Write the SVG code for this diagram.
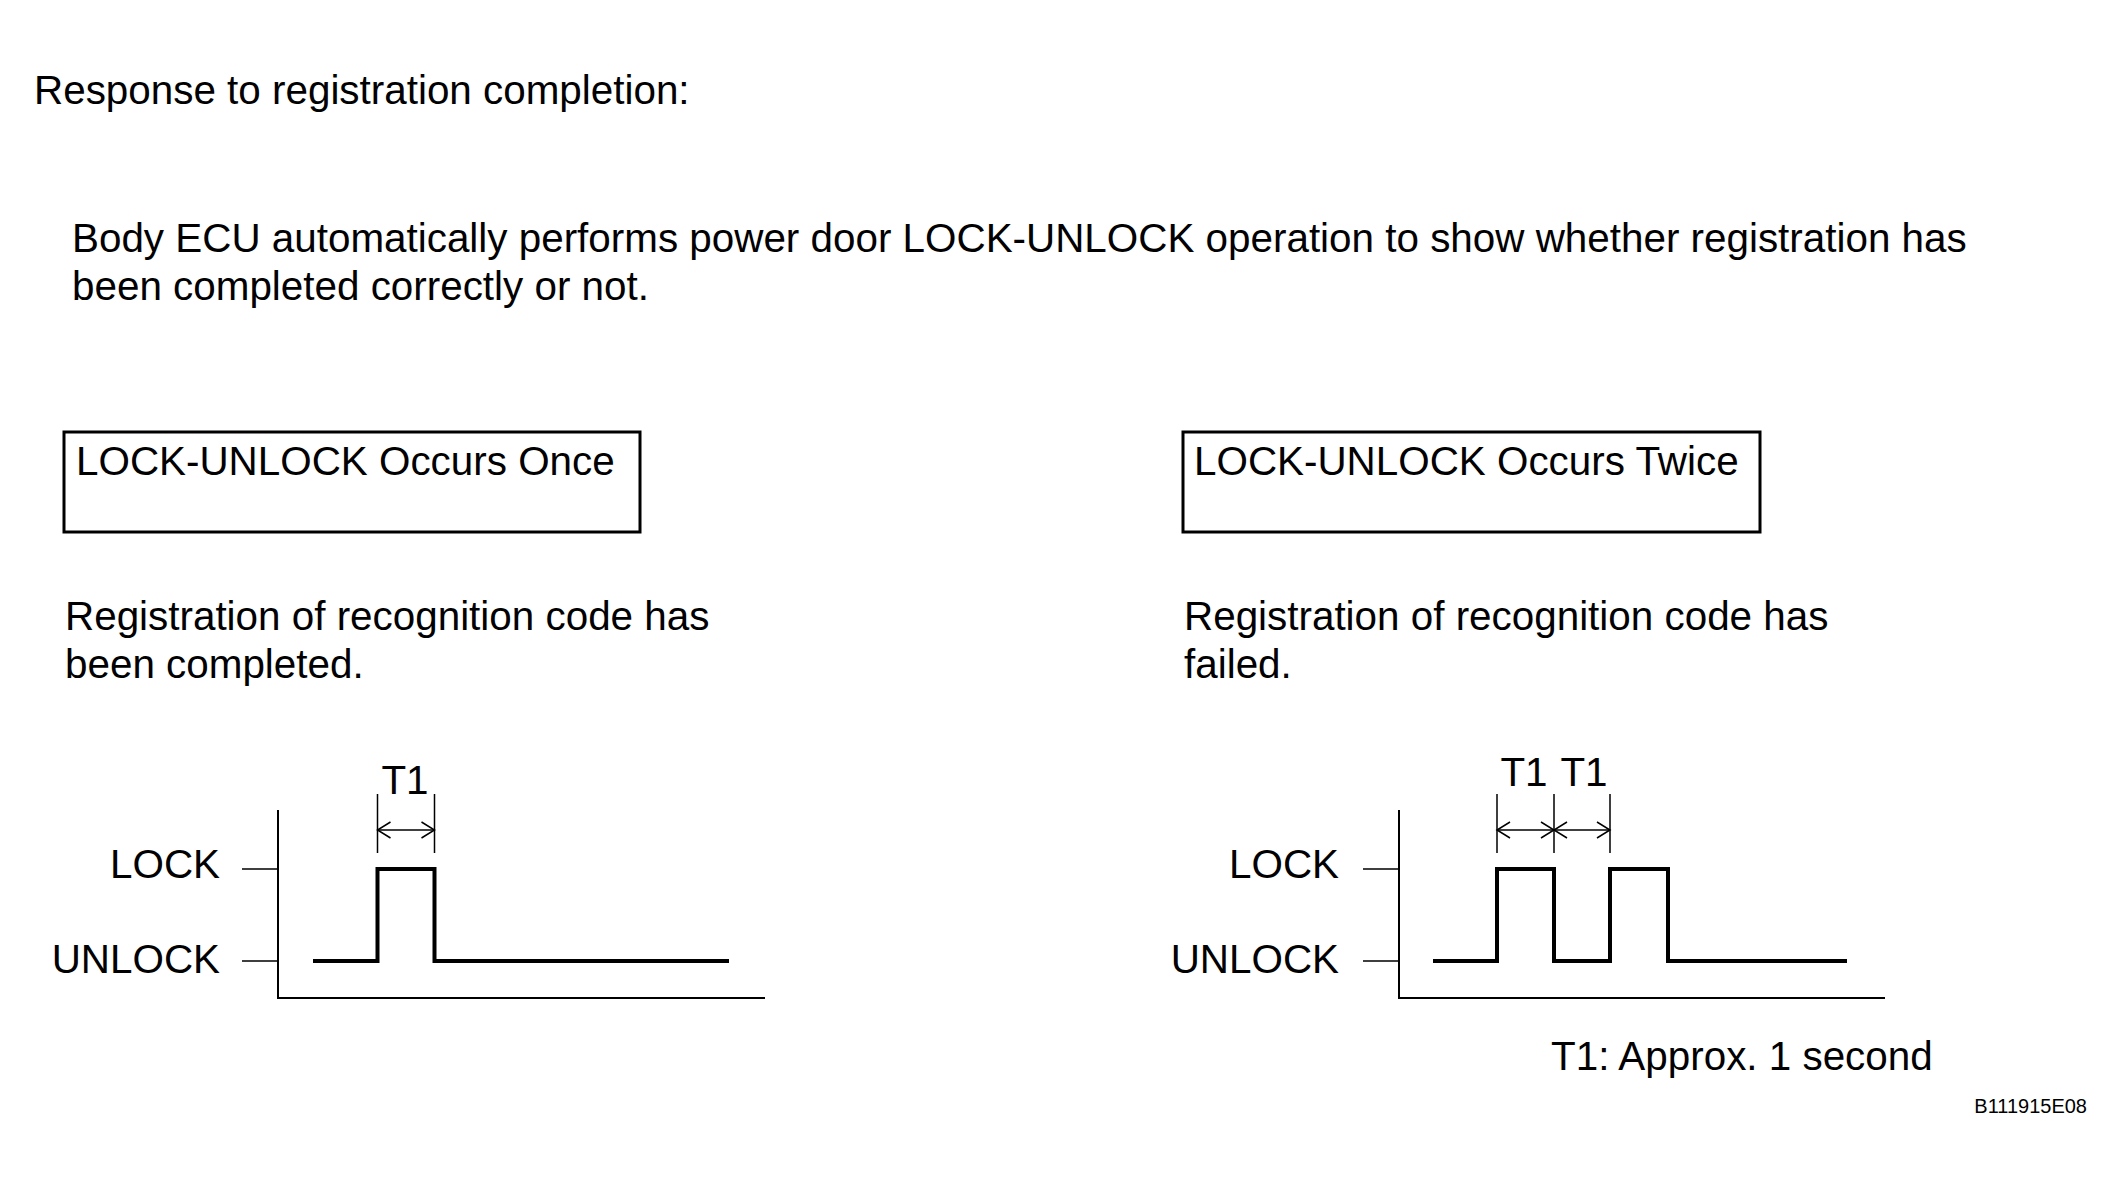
<svg xmlns="http://www.w3.org/2000/svg" width="2124" height="1188" viewBox="0 0 2124 1188">
<style>
text{font-family:"Liberation Sans",Arial,sans-serif;font-size:40.4px;fill:#000}
.box{fill:none;stroke:#000;stroke-width:3}
.axis{fill:none;stroke:#000;stroke-width:2}
.tick{fill:none;stroke:#000;stroke-width:1.5}
.sig{fill:none;stroke:#000;stroke-width:4;stroke-linejoin:miter}
.dim{fill:none;stroke:#000;stroke-width:1.5}
.arr{fill:none;stroke:#000;stroke-width:1.5;marker-start:url(#open);marker-end:url(#open)}
.lab{text-anchor:end}
.mid{text-anchor:middle}
</style>
<defs>
<marker id="open" markerUnits="userSpaceOnUse" markerWidth="20" markerHeight="20" viewBox="-15 -10 20 20" refX="0" refY="0" orient="auto-start-reverse">
<path d="M-13,-8 L0,0 L-13,8" fill="none" stroke="#000" stroke-width="1.5"/>
</marker>
</defs>
<rect width="2124" height="1188" fill="#fff"/>
<g id="title"><text x="34" y="104">Response to registration completion:</text></g>
<g id="description">
<text x="72" y="252">Body ECU automatically performs power door LOCK-UNLOCK operation to show whether registration has</text>
<text x="72" y="300">been completed correctly or not.</text>
</g>
<g id="node-once">
<rect class="box" x="64" y="432" width="576" height="100"/>
<text x="76" y="475">LOCK-UNLOCK Occurs Once</text>
<text x="65" y="630">Registration of recognition code has</text>
<text x="65" y="678">been completed.</text>
</g>
<g id="node-twice">
<rect class="box" x="1183" y="432" width="577" height="100"/>
<text x="1194" y="475">LOCK-UNLOCK Occurs Twice</text>
<text x="1184" y="630">Registration of recognition code has</text>
<text x="1184" y="678">failed.</text>
</g>
<g id="chart-once">
<path class="axis" d="M278,810 V998 H765"/>
<path class="tick" d="M242,869 H278 M242,961 H278"/>
<text class="lab" x="220" y="878">LOCK</text>
<text class="lab" x="220" y="973">UNLOCK</text>
<path class="sig" d="M313,961 H377.5 V869 H434.5 V961 H729"/>
<path class="dim" d="M377.5,794 V853 M434.5,794 V853"/>
<text class="mid" x="405" y="794">T1</text>
</g>
<g id="chart-twice">
<path class="axis" d="M1399,810 V998 H1885"/>
<path class="tick" d="M1363,869 H1399 M1363,961 H1399"/>
<text class="lab" x="1339" y="878">LOCK</text>
<text class="lab" x="1339" y="973">UNLOCK</text>
<path class="sig" d="M1433,961 H1497 V869 H1554 V961 H1610 V869 H1668 V961 H1847"/>
<path class="dim" d="M1497,794 V853 M1554,794 V853 M1610,794 V853"/>
<text class="mid" x="1524" y="786">T1</text>
<text class="mid" x="1584" y="786">T1</text>
</g>
<g id="connectors">
<line class="arr" x1="377.5" y1="830" x2="434.5" y2="830"/>
<line class="arr" x1="1497" y1="830" x2="1554" y2="830"/>
<line class="arr" x1="1554" y1="830" x2="1610" y2="830"/>
</g>
<g id="notes">
<text x="1551" y="1070">T1: Approx. 1 second</text>
<text x="2087" y="1113" style="font-size:20px;text-anchor:end">B111915E08</text>
</g>
</svg>
